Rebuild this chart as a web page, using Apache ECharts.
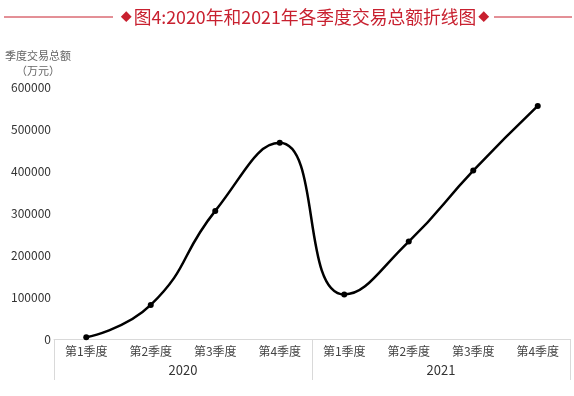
<!DOCTYPE html>
<html><head><meta charset="utf-8">
<script src="https://cdn.jsdelivr.net/npm/echarts@6/dist/echarts.min.js"></script>
<style>html,body{margin:0;padding:0;background:#fff}#c{width:574px;height:396px}</style>
</head><body><div id="c"></div>
<script>
var quarters = ['第1季度','第2季度','第3季度','第4季度','第1季度','第2季度','第3季度','第4季度'];
var years = ['2020','2021'];
var totals = [4000, 81000, 305000, 467000, 106000, 232000, 401000, 555000];
var yTicks = {min: 0, max: 600000, interval: 100000};
var titleText = '图4:2020年和2021年各季度交易总额折线图';
var yName = ['季度交易总额', '（万元）'];

var FONT = '"Noto Sans CJK SC", "Noto Sans", sans-serif';
var RED = '#c8202f';
var chart = echarts.init(document.getElementById('c'));
chart.setOption({
  animation: false,
  grid: {left: 54, right: 4, top: 87, bottom: 57},
  xAxis: [{
    type: 'category', data: quarters, boundaryGap: true,
    axisLine: {lineStyle: {color: '#d9d9d9', width: 1}},
    axisTick: {show: false},
    axisLabel: {color: '#444', fontSize: 12, fontFamily: FONT, margin: 6}
  }, {
    type: 'category', data: years, position: 'bottom', boundaryGap: true,
    axisLine: {show: false},
    axisTick: {show: true, length: 41, lineStyle: {color: '#d9d9d9', width: 1}},
    axisLabel: {color: '#333', fontSize: 13, fontFamily: FONT, margin: 25}
  }],
  yAxis: {
    type: 'value', min: yTicks.min, max: yTicks.max, interval: yTicks.interval,
    axisLine: {show: false}, axisTick: {show: false}, splitLine: {show: false},
    axisLabel: {color: '#333', fontSize: 12, fontFamily: FONT, margin: 3,
      formatter: function (v) { return String(v); }}
  },
  series: [{
    type: 'line', data: totals, xAxisIndex: 0, smooth: 0.5,
    lineStyle: {color: '#000', width: 2.5},
    itemStyle: {color: '#000'},
    symbol: 'circle', symbolSize: 6, showSymbol: true
  }],
  graphic: [
    {type: 'line', shape: {x1: 4, y1: 17, x2: 113, y2: 17}, style: {stroke: RED, lineWidth: 1}},
    {type: 'line', shape: {x1: 494, y1: 17, x2: 572, y2: 17}, style: {stroke: RED, lineWidth: 1}},
    {type: 'text', x: 305, y: 17, style: {
      text: '{d|◆}{t|' + titleText + '}{d|◆}',
      rich: {
        d: {fontSize: 11, fill: RED, fontFamily: FONT, padding: [0, 2, 0, 2]},
        t: {fontSize: 17.8, fill: RED, fontFamily: FONT}
      },
      textAlign: 'center', textVerticalAlign: 'middle'}},
    {type: 'text', x: 38, y: 56, style: {text: yName[0], fill: '#666', font: '11px ' + FONT, textAlign: 'center', textVerticalAlign: 'middle'}},
    {type: 'text', x: 38, y: 71, style: {text: yName[1], fill: '#666', font: '11px ' + FONT, textAlign: 'center', textVerticalAlign: 'middle'}}
  ]
});
</script></body></html>
